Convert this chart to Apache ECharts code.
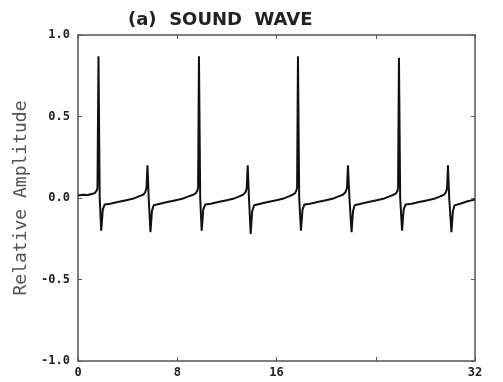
<!DOCTYPE html>
<html>
<head>
<meta charset="utf-8">
<script src="https://cdn.jsdelivr.net/npm/echarts@6/dist/echarts.min.js"></script>
<style>
html, body { margin: 0; padding: 0; background: #fff; }
#chart { width: 503px; height: 382px; }
</style>
</head>
<body>
<div id="chart"></div>
<script>
// time axis (units as printed) and relative amplitude
const time = [
    0, 0.4, 0.8, 1.1, 1.35, 1.5, 1.57, 1.65, 1.75, 1.87, 2.0, 2.15, 2.6, 3.2, 3.8, 4.4, 4.9, 5.25, 5.42, 5.52,
    5.6, 5.7, 5.84, 5.96, 6.1, 6.6, 7.2, 7.8, 8.4, 8.9, 9.3, 9.5, 9.62, 9.68, 9.75, 9.85, 9.97, 10.1, 10.25, 10.7,
    11.3, 11.9, 12.5, 13.0, 13.3, 13.5, 13.6, 13.68, 13.78, 13.92, 14.04, 14.2, 14.7, 15.3, 15.9, 16.5, 17.0, 17.3, 17.5, 17.6,
    17.66, 17.73, 17.83, 17.97, 18.1, 18.25, 18.7, 19.3, 19.9, 20.5, 21.0, 21.35, 21.55, 21.68, 21.76, 21.88, 22.05, 22.17, 22.3, 22.8,
    23.4, 24.0, 24.6, 25.1, 25.45, 25.65, 25.76, 25.8, 25.87, 25.97, 26.12, 26.25, 26.4, 26.9, 27.5, 28.1, 28.7, 29.2, 29.5, 29.65,
    29.75, 29.82, 29.92, 30.1, 30.22, 30.35, 30.8, 31.4, 32
];
const amplitude = [
    0.015, 0.02, 0.018, 0.025, 0.03, 0.045, 0.06, 0.87, 0.0, -0.2, -0.07, -0.04, -0.035, -0.025, -0.015, -0.005, 0.01, 0.02, 0.035, 0.06,
    0.2, 0.0, -0.21, -0.08, -0.045, -0.035, -0.025, -0.015, -0.005, 0.01, 0.02, 0.03, 0.045, 0.065, 0.87, 0.0, -0.2, -0.07, -0.04, -0.035,
    -0.025, -0.015, -0.005, 0.01, 0.02, 0.035, 0.06, 0.2, 0.0, -0.22, -0.08, -0.045, -0.035, -0.025, -0.015, -0.005, 0.01, 0.02, 0.03, 0.045,
    0.065, 0.87, 0.0, -0.2, -0.07, -0.04, -0.035, -0.025, -0.015, -0.005, 0.01, 0.02, 0.035, 0.06, 0.2, 0.0, -0.21, -0.08, -0.045, -0.035,
    -0.025, -0.015, -0.005, 0.01, 0.02, 0.03, 0.045, 0.065, 0.86, 0.0, -0.2, -0.07, -0.04, -0.035, -0.025, -0.015, -0.005, 0.01, 0.02, 0.035,
    0.06, 0.2, 0.0, -0.21, -0.08, -0.045, -0.035, -0.02, -0.01
];
const xTickLabels = ['0', '8', '16', '', '32'];   // 24 is not labelled in the original
const titleText = '(a)  SOUND  WAVE';
const yName = 'Relative Amplitude';

const chart = echarts.init(document.getElementById('chart'));

const frameColor = '#555';
const labelFont = { fontFamily: 'DejaVu Sans Mono', fontWeight: 'bold', fontSize: 12, color: '#222' };

const option = {
    animation: false,
    title: {
        text: titleText,
        left: 123,
        top: 6,
        textStyle: { fontFamily: 'DejaVu Sans', fontWeight: 'bold', fontSize: 18, color: '#222' }
    },
    grid: { left: 78, right: 28, top: 35, bottom: 21 },
    xAxis: [
        {
            type: 'value', min: 0, max: 32, interval: 8, position: 'bottom',
            axisLine: { onZero: false, lineStyle: { color: frameColor, width: 1.5 } },
            axisTick: { inside: true, length: 4, lineStyle: { color: frameColor } },
            axisLabel: {
                ...labelFont, margin: 6,
                formatter: v => xTickLabels[v / 8]
            },
            splitLine: { show: false }
        },
        {
            type: 'value', min: 0, max: 32, interval: 8, position: 'top',
            axisLine: { onZero: false, lineStyle: { color: frameColor, width: 1.5 } },
            axisTick: { inside: true, length: 4, lineStyle: { color: frameColor } },
            axisLabel: { show: false },
            splitLine: { show: false }
        }
    ],
    yAxis: [
        {
            type: 'value', min: -1, max: 1, interval: 0.5, position: 'left',
            name: yName, nameLocation: 'middle', nameGap: 46, nameRotate: 90,
            nameTextStyle: { fontFamily: 'DejaVu Sans Mono', fontSize: 18, color: '#555' },
            axisLine: { show: true, onZero: false, lineStyle: { color: frameColor, width: 1.5 } },
            axisTick: { show: true, inside: true, length: 4, lineStyle: { color: frameColor } },
            axisLabel: { ...labelFont, margin: 8, formatter: v => v.toFixed(1) },
            splitLine: { show: false }
        },
        {
            type: 'value', min: -1, max: 1, interval: 0.5, position: 'right',
            axisLine: { show: true, onZero: false, lineStyle: { color: frameColor, width: 1.5 } },
            axisTick: { show: true, inside: true, length: 4, lineStyle: { color: frameColor } },
            axisLabel: { show: false },
            splitLine: { show: false }
        }
    ],
    series: [
        {
            type: 'line',
            data: time.map((t, i) => [t, amplitude[i]]),
            showSymbol: false,
            lineStyle: { color: '#111', width: 2 }
        }
    ]
};

chart.setOption(option);
</script>
</body>
</html>
